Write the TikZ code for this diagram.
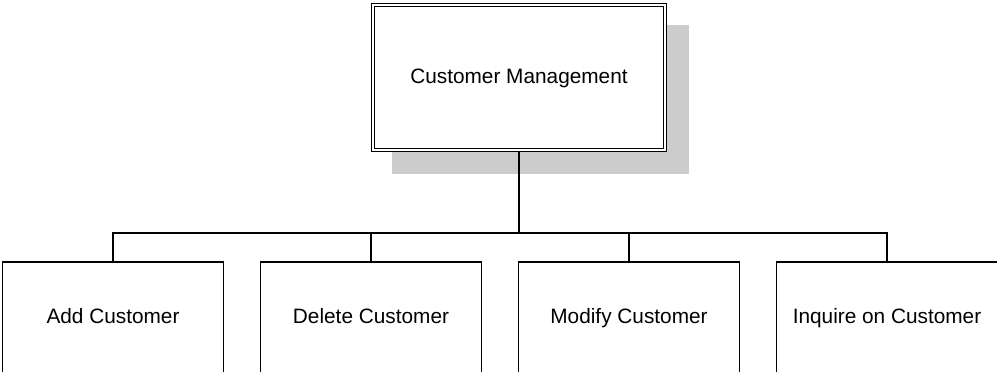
\documentclass[tikz,border=0pt]{standalone}
\usepackage{fontspec}
\setmainfont{Liberation Sans}
\begin{document}
\begin{tikzpicture}[x=1pt,y=-1pt,
  leaf/.style={draw, line width=1.8pt, minimum width=221pt, minimum height=112pt, inner sep=0pt, text height=15pt, text depth=4pt, font=\fontsize{20.8pt}{24pt}\selectfont},
  rootbox/.style={draw, line width=1.3pt, double, double distance=2pt, fill=white, minimum width=292pt, minimum height=145pt, inner sep=0pt, text height=15pt, text depth=4pt, font=\fontsize{20.8pt}{24pt}\selectfont},
  link/.style={line width=1.6pt}]
\useasboundingbox (0,0) rectangle (997,372);
\clip (0,0) rectangle (997,372);
\fill[black!20] (392,25) rectangle (689,174);
\node[rootbox] (top) at (519,77.5) {Customer Management};
\coordinate (bus) at (519,233);
\node[leaf] (b1) at (113,318) {Add Customer};
\node[leaf] (b2) at (371,318) {Delete Customer};
\node[leaf] (b3) at (629,318) {Modify Customer};
\node[leaf] (b4) at (887,318) {Inquire on Customer};
\draw[link] (top.south) -- (bus);
\draw[link] (b1.north) -- (b1.north |- bus) -- (b4.north |- bus) -- (b4.north);
\draw[link] (b2.north) -- (b2.north |- bus);
\draw[link] (b3.north) -- (b3.north |- bus);
\end{tikzpicture}
\end{document}
